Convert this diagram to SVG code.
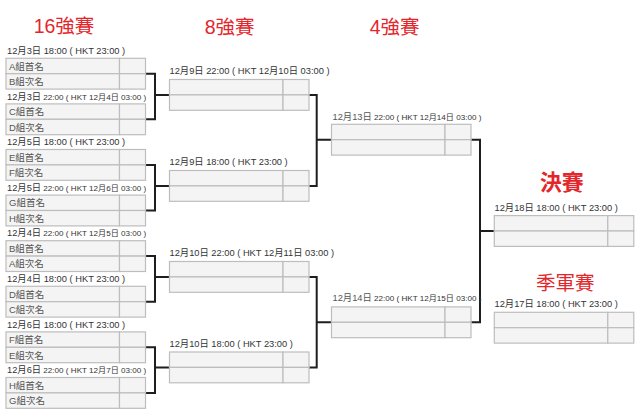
<svg xmlns="http://www.w3.org/2000/svg" xmlns:xlink="http://www.w3.org/1999/xlink" width="640" height="417" viewBox="0 0 640 417">
<style>
text{font-family:"Liberation Sans","Noto Sans CJK TC",sans-serif;dominant-baseline:central}
.hdr{fill:#e3262b;font-size:19.5px;text-anchor:middle}
.big{font-size:22px;font-weight:bold}
.lbl{fill:#333;font-size:9.3px}
.sm{font-size:8.1px}
.dt{fill:#555}
.team{fill:#555;font-size:9.5px}
.cell{fill:#f4f4f4;stroke:#bdbdbd;stroke-width:1.2}
.conn{fill:none;stroke:#1e1e1e;stroke-width:2}
</style>
<defs>
<g id="box">
<rect class="cell" x="0" y="0" width="113.5" height="15.4"/>
<rect class="cell" x="113.5" y="0" width="26" height="15.4"/>
<rect class="cell" x="0" y="15.4" width="113.5" height="15.4"/>
<rect class="cell" x="113.5" y="15.4" width="26" height="15.4"/>
</g>
</defs>
<rect width="640" height="417" fill="#fff"/>

<g id="headers">
<text class="hdr" x="64" y="26">16強賽</text>
<text class="hdr" x="229.7" y="26.5">8強賽</text>
<text class="hdr" x="394.7" y="26.5">4強賽</text>
<text class="hdr big" x="561.7" y="182.7">決賽</text>
<text class="hdr" x="565.3" y="283">季軍賽</text>
</g>

<g id="connectors">
<path class="conn" d="M145.5,73.7H155V119.3H145.5M155,94.9H169.5"/>
<path class="conn" d="M145.5,164.9H155V210.5H145.5M155,185.9H169.5"/>
<path class="conn" d="M145.5,256.1H155V301.7H145.5M155,276.9H169.5"/>
<path class="conn" d="M145.5,347.3H155V392.9H145.5M155,367.4H169.5"/>
<path class="conn" d="M309,94.9H316.7V185.9H309M316.7,139.7H331.5"/>
<path class="conn" d="M309,276.9H316.7V367.4H309M316.7,322.3H331.5"/>
<path class="conn" d="M471,139.7H480V322.3H471M480,231H494.3"/>
</g>

<g id="r16-1">
<text class="lbl" x="7" y="51">12月3日 18:00 ( HKT 23:00 )</text>
<use xlink:href="#box" x="6" y="58.3"/>
<text class="team" x="9" y="66">A組首名</text>
<text class="team" x="9" y="81.4">B組次名</text>
</g>
<g id="r16-2">
<text class="lbl" x="7" y="96.6">12月3日<tspan class="sm"> 22:00 ( HKT 12月4日 03:00 )</tspan></text>
<use xlink:href="#box" x="6" y="103.9"/>
<text class="team" x="9" y="111.6">C組首名</text>
<text class="team" x="9" y="127">D組次名</text>
</g>
<g id="r16-3">
<text class="lbl" x="7" y="142.2">12月5日 18:00 ( HKT 23:00 )</text>
<use xlink:href="#box" x="6" y="149.5"/>
<text class="team" x="9" y="157.2">E組首名</text>
<text class="team" x="9" y="172.6">F組次名</text>
</g>
<g id="r16-4">
<text class="lbl" x="7" y="187.8">12月5日<tspan class="sm"> 22:00 ( HKT 12月6日 03:00 )</tspan></text>
<use xlink:href="#box" x="6" y="195.1"/>
<text class="team" x="9" y="202.8">G組首名</text>
<text class="team" x="9" y="218.2">H組次名</text>
</g>
<g id="r16-5">
<text class="lbl" x="7" y="233.4">12月4日<tspan class="sm"> 22:00 ( HKT 12月5日 03:00 )</tspan></text>
<use xlink:href="#box" x="6" y="240.7"/>
<text class="team" x="9" y="248.4">B組首名</text>
<text class="team" x="9" y="263.8">A組次名</text>
</g>
<g id="r16-6">
<text class="lbl" x="7" y="279">12月4日 18:00 ( HKT 23:00 )</text>
<use xlink:href="#box" x="6" y="286.3"/>
<text class="team" x="9" y="294">D組首名</text>
<text class="team" x="9" y="309.4">C組次名</text>
</g>
<g id="r16-7">
<text class="lbl" x="7" y="324.6">12月6日 18:00 ( HKT 23:00 )</text>
<use xlink:href="#box" x="6" y="331.9"/>
<text class="team" x="9" y="339.6">F組首名</text>
<text class="team" x="9" y="355">E組次名</text>
</g>
<g id="r16-8">
<text class="lbl" x="7" y="370.2">12月6日<tspan class="sm"> 22:00 ( HKT 12月7日 03:00 )</tspan></text>
<use xlink:href="#box" x="6" y="377.5"/>
<text class="team" x="9" y="385.2">H組首名</text>
<text class="team" x="9" y="400.6">G組次名</text>
</g>

<g id="qf-1">
<text class="lbl" x="169.5" y="70.7">12月9日 22:00 ( HKT 12月10日 03:00 )</text>
<use xlink:href="#box" x="169.5" y="79.5"/>
</g>
<g id="qf-2">
<text class="lbl" x="169.5" y="162.3">12月9日 18:00 ( HKT 23:00 )</text>
<use xlink:href="#box" x="169.5" y="170.5"/>
</g>
<g id="qf-3">
<text class="lbl" x="169.5" y="253.3">12月10日 22:00 ( HKT 12月11日 03:00 )</text>
<use xlink:href="#box" x="169.5" y="261.5"/>
</g>
<g id="qf-4">
<text class="lbl" x="169.5" y="344.3">12月10日 18:00 ( HKT 23:00 )</text>
<use xlink:href="#box" x="169.5" y="352"/>
</g>

<g id="sf-1">
<text class="lbl" x="332.5" y="116.7"><tspan class="dt">12月13日</tspan><tspan class="sm"> 22:00 ( HKT 12月14日 03:00 )</tspan></text>
<use xlink:href="#box" x="331.5" y="124.3"/>
</g>
<g id="sf-2">
<text class="lbl" x="332.5" y="298.3"><tspan class="dt">12月14日</tspan><tspan class="sm"> 22:00 ( HKT 12月15日 03:00 )</tspan></text>
<use xlink:href="#box" x="331.5" y="306.9"/>
</g>

<g id="final">
<text class="lbl" x="494.5" y="207.7">12月18日 18:00 ( HKT 23:00 )</text>
<use xlink:href="#box" x="494.3" y="215.6"/>
</g>
<g id="third-place">
<text class="lbl" x="494.5" y="304">12月17日 18:00 ( HKT 23:00 )</text>
<use xlink:href="#box" x="494.3" y="312.3"/>
</g>
</svg>
